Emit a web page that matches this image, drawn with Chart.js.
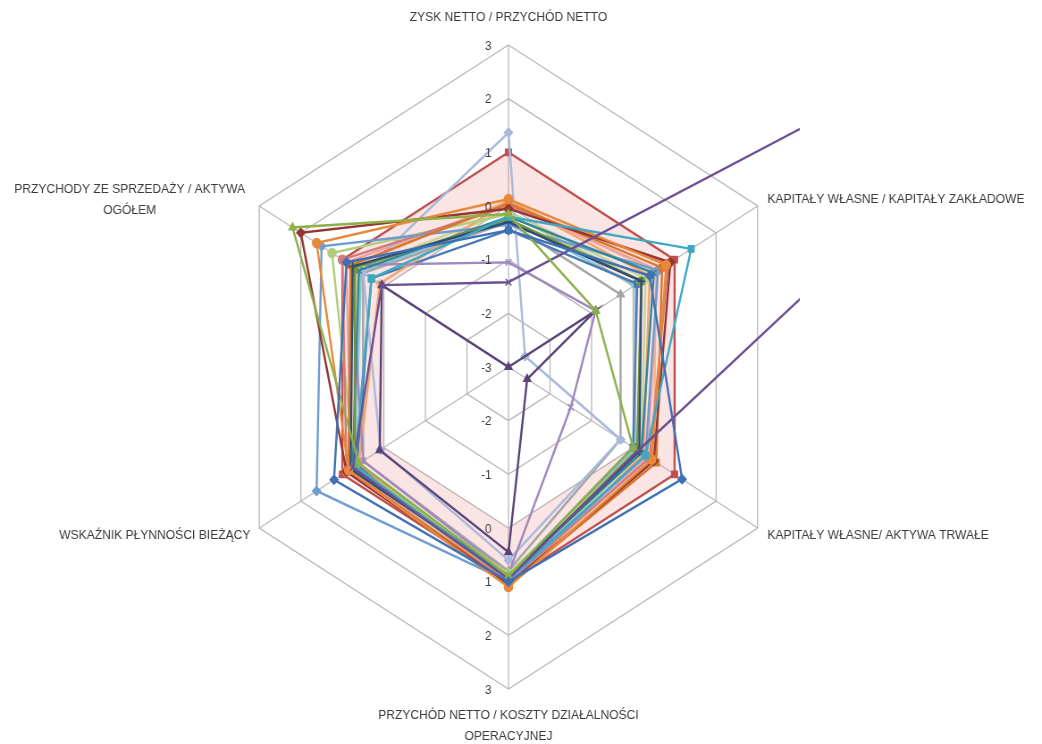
<!DOCTYPE html>
<html lang="pl">
<head>
<meta charset="utf-8">
<title>Wskaźniki finansowe</title>
<script src="https://cdn.jsdelivr.net/npm/chart.js@4.4.1/dist/chart.umd.min.js"></script>
<style>
  html, body { margin: 0; padding: 0; background: #fff; overflow: hidden; }
  /* the source picture is squeezed horizontally, so the whole chart is too */
  #wrap { width: 1166px; height: 744px; transform: scaleX(0.8936); transform-origin: 0 0; }
</style>
</head>
<body>
<div id="wrap"><canvas id="radarChart"></canvas></div>
<script>
const categories = [
  ['ZYSK NETTO / PRZYCHÓD NETTO'],
  ['KAPITAŁY WŁASNE / KAPITAŁY ZAKŁADOWE'],
  ['KAPITAŁY WŁASNE/ AKTYWA TRWAŁE'],
  ['PRZYCHÓD NETTO / KOSZTY DZIAŁALNOŚCI', 'OPERACYJNEJ'],
  ['WSKAŹNIK PŁYNNOŚCI BIEŻĄCY'],
  ['PRZYCHODY ZE SPRZEDAŻY / AKTYWA', 'OGÓŁEM'],
];
const tickValues = [-3, -2, -1, 0, 1, 2, 3];

// one array per company, order of values follows categories
const series01 = [-0.45, 0.4, 1.18, 1.0, 1.2, 0.9];
const series02 = [1, 1, 1, 1, 1, 1];
const series03 = [-0.15, -0.9, 0.0, 0.9, 0.6, 2.2];
const series04 = [-1.42, 14, 0.12, 0.95, 0.75, 0.05];
const series05 = [-0.2, 1.4, 0.3, 0.95, 0.7, 0.3];
const series06 = [0.13, 0.8, 0.45, 1.1, 0.85, 1.62];
const series07 = [-0.3, 0.2, 0.15, 0.9, 0.8, 0.75];
const series08 = [-0.05, 0.9, 0.5, 1.05, 0.9, 2.0];
const series09 = [-0.25, 0.2, 0.1, 0.95, 0.7, 0.7];
const series10 = [-3, -0.9, -2.55, 0.45, 0.1, 0.05];
const series11 = [-0.2, 0.5, 0.2, 0.9, 0.75, 0.6];
const series12 = [0.05, 0.7, 0.56, 1.05, 0.85, 0.8];
const series13 = [-0.35, 0.6, 0.3, 1.0, 1.62, 1.5];
const series14 = [0.0, 0.85, 0.4, 1.0, 0.9, 1.0];
const series15 = [-0.15, 0.2, 0.1, 0.85, 0.7, 1.25];
const series16 = [-1.05, -0.9, -1.5, 0.85, 0.5, 0.8];
const series17 = [1.37, -2.6, -0.3, 0.6, 0.08, 0.5];
const series18 = [0.1, 0.4, 0.25, 1.1, 0.6, 0.1];
const series19 = [-0.45, 0.1, 0.0, 0.9, 0.65, 0.3];
const series20 = [-0.3, -0.3, -0.3, 0.8, 0.5, 0.5];
const series21 = [-0.1, 0.3, 0.2, 1.0, 0.75, 0.65];
const series22 = [0.05, 0.6, 0.35, 1.05, 0.8, 0.9];
const series23 = [-0.25, 0.05, 0.05, 0.9, 0.7, 0.55];
const series24 = [0.1, 0.55, 0.5, 1.1, 0.85, 0.75];

const seriesValues = [
  series01, series02, series03, series04, series05, series06, series07, series08,
  series09, series10, series11, series12, series13, series14, series15, series16,
  series17, series18, series19, series20, series21, series22, series23, series24,
];
const seriesColors = [
  '#3f6fb5', '#c0504d', '#8db04a', '#6a4f93', '#3ea8c4', '#e8883a', '#2c4d75', '#943634',
  '#76923c', '#5a4478', '#31859c', '#d9772b', '#6f9bd1', '#d47a78', '#b2cc7e', '#9f88bd',
  '#a9b9dc', '#f5a46a', '#4a7ab0', '#a5a5a5', '#c3d69b', '#e6a5a3', '#86c5d8', '#f7b486',
];
const seriesMarkers = [
  'rectRot', 'rect', 'triangle', 'crossRot', 'rect', 'circle', 'cross', 'rectRot',
  'rect', 'triangle', 'crossRot', 'rect', 'rectRot', 'circle', 'circle', 'crossRot',
  'rectRot', 'star', 'rect', 'triangle', 'circle', 'rect', 'rectRot', 'triangle',
];

const FONT = "'Liberation Sans', Arial, sans-serif";
const TEXT = '#3a3a3a';

const radarText = {
  id: 'radarText',
  afterDraw(chart) {
    const scale = chart.scales.r;
    const ctx = chart.ctx;
    const xc = scale.xCenter;
    const yc = scale.yCenter;
    const R = scale.drawingArea;
    ctx.save();
    ctx.fillStyle = TEXT;

    // tick labels, up and down the vertical axis
    ctx.font = `13px ${FONT}`;
    ctx.textAlign = 'right';
    ctx.textBaseline = 'middle';
    tickValues.forEach((v) => {
      const d = scale.getDistanceFromCenterForValue(v);
      ctx.fillText(String(v), xc - 19, yc - d + 1);
      if (d > 0) ctx.fillText(String(v), xc - 19, yc + d + 1);
    });

    // axis titles
    ctx.font = `13.5px ${FONT}`;
    const place = [
      { dx: 0, dy: -28, align: 'center' },
      { dx: 11, dy: -7, align: 'left' },
      { dx: 11, dy: 7, align: 'left' },
      { dx: 0, dy: 26, align: 'center' },
      { dx: -10, dy: 7, align: 'right' },
      { dx: -145, dy: -17, align: 'center' },
    ];
    categories.forEach((lines, i) => {
      const p = scale.getPointPosition(i, R);
      const o = place[i];
      ctx.textAlign = o.align;
      lines.forEach((line, k) => {
        ctx.fillText(line, p.x + o.dx, p.y + o.dy + k * 21);
      });
    });
    ctx.restore();
  },
};

const datasets = seriesValues.map((values, i) => ({
  label: `Seria ${i + 1}`,
  data: values,
  borderColor: seriesColors[i],
  backgroundColor: i === 1 ? 'rgba(232, 120, 120, 0.2)' : seriesColors[i],
  fill: i === 1,
  order: i === 1 ? 1 : 0,
  borderWidth: 2.4,
  pointStyle: seriesMarkers[i],
  pointRadius: 4.5,
  pointBorderWidth: 1.5,
  pointBackgroundColor: seriesColors[i],
  pointBorderColor: seriesColors[i],
  // lines may leave the plot, but stop just past its right edge
  clip: { left: 300, top: 100, right: 3, bottom: 100 },
}));

new Chart(document.getElementById('radarChart'), {
  type: 'radar',
  data: { labels: categories.map((c) => c.join(' ')), datasets },
  options: {
    responsive: true,
    maintainAspectRatio: false,
    animation: false,
    layout: { padding: { left: 247, right: 274, top: 45, bottom: 54 } },
    plugins: { legend: { display: false }, tooltip: { enabled: false } },
    elements: { line: { tension: 0 } },
    scales: {
      r: {
        min: -3,
        max: 3,
        ticks: { stepSize: 1, display: false },
        pointLabels: { display: false },
        grid: { color: '#b8b8b8', lineWidth: 1.3 },
        angleLines: { color: '#b8b8b8', lineWidth: 1.3 },
      },
    },
  },
  plugins: [radarText],
});
</script>
</body>
</html>
